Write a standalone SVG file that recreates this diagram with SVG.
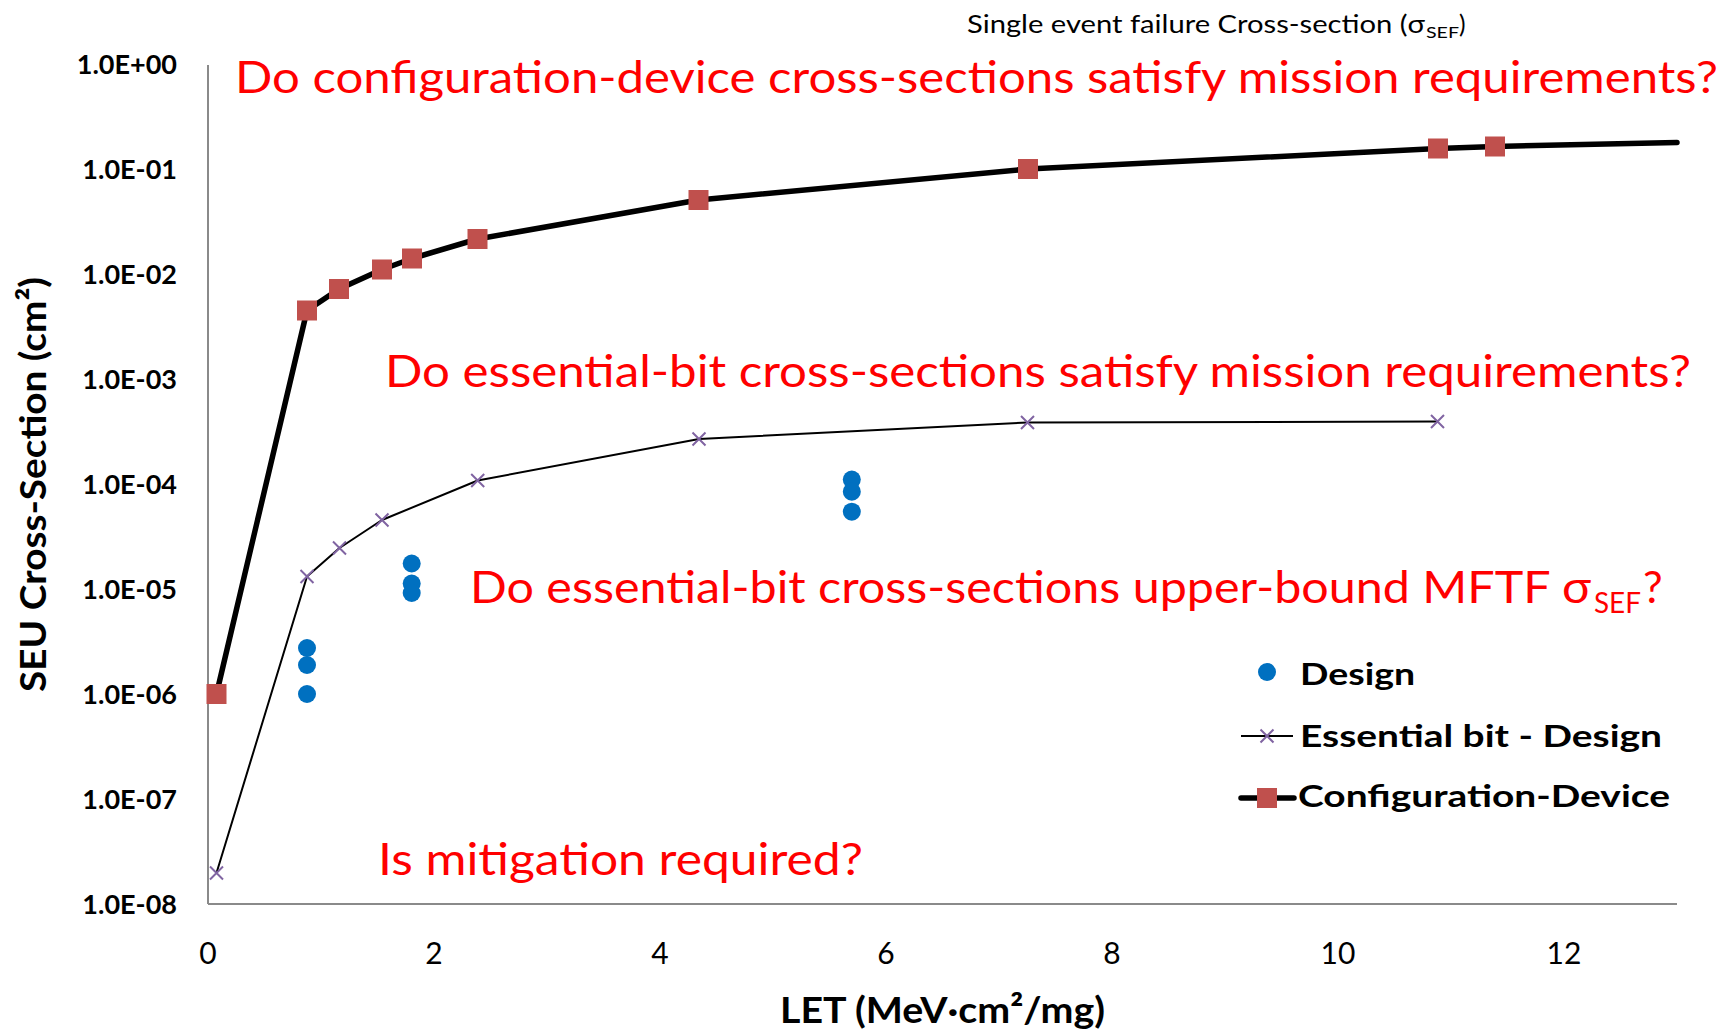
<svg xmlns="http://www.w3.org/2000/svg" xmlns:xlink="http://www.w3.org/1999/xlink" width="1725" height="1029" viewBox="0 0 1725 1029">
<style>
text{font-family:Lato,"Liberation Sans",sans-serif}
.q{fill:#FF0000;font-size:44px}
.tick{font-size:27px;font-weight:bold;fill:#000;text-anchor:end}
.xt{font-size:30px;fill:#000;text-anchor:middle}
.ax{stroke:#8A8A8A;stroke-width:2;fill:none}
.thick{stroke:#000;stroke-width:5.5;fill:none;stroke-linejoin:round;stroke-linecap:round}
.thin{stroke:#000;stroke-width:2;fill:none;stroke-linejoin:round}
.xm{stroke:#8064A2;stroke-width:2;fill:none}
.sq{fill:#C0504D}
.dot{fill:#0070C0}
.leg{font-size:31px;font-weight:bold;fill:#000}
.title{font-size:37px;font-weight:bold;fill:#000}
</style>
<defs>
<path id="xmark" class="xm" d="M-6.5,-6.5L6.5,6.5M-6.5,6.5L6.5,-6.5"/>
<rect id="sqmark" class="sq" x="-10" y="-10" width="20" height="20"/>
</defs>
<rect width="1725" height="1029" fill="#fff"/>

<g id="axes">
<line class="ax" x1="208" y1="65" x2="208" y2="904"/>
<line class="ax" x1="208" y1="904" x2="1677" y2="904"/>
</g>

<g id="y-ticks">
<text class="tick" x="177" y="74">1.0E+00</text>
<text class="tick" x="177" y="179">1.0E-01</text>
<text class="tick" x="177" y="284">1.0E-02</text>
<text class="tick" x="177" y="389">1.0E-03</text>
<text class="tick" x="177" y="494">1.0E-04</text>
<text class="tick" x="177" y="599">1.0E-05</text>
<text class="tick" x="177" y="704">1.0E-06</text>
<text class="tick" x="177" y="809">1.0E-07</text>
<text class="tick" x="177" y="914">1.0E-08</text>
</g>

<g id="x-ticks">
<text class="xt" x="208" y="964">0</text>
<text class="xt" x="434" y="964">2</text>
<text class="xt" x="660" y="964">4</text>
<text class="xt" x="886" y="964">6</text>
<text class="xt" x="1112" y="964">8</text>
<text class="xt" x="1338" y="964">10</text>
<text class="xt" x="1564" y="964">12</text>
</g>

<g id="axis-titles">
<text class="title" x="780" y="1023" textLength="325" lengthAdjust="spacingAndGlyphs">LET (MeV·cm²/mg)</text>
<text class="title" transform="translate(46,692) rotate(-90)" x="0" y="0" textLength="415" lengthAdjust="spacingAndGlyphs">SEU Cross-Section (cm²)</text>
</g>

<g id="chart-title">
<text x="967" y="33" font-size="24.5" fill="#000" textLength="458" lengthAdjust="spacingAndGlyphs">Single event failure Cross-section (σ</text>
<text x="1426" y="38" font-size="16" fill="#000" textLength="33" lengthAdjust="spacingAndGlyphs">SEF</text>
<text x="1459" y="33" font-size="24.5" fill="#000">)</text>
</g>

<g id="connectors">
<polyline id="config-device-line" class="thick" points="216.5,694 307,310.5 339,289 382,269.5 412,258.5 477.5,239 698.5,200 1028,169 1438,148.5 1495,146.5 1677,142.5"/>
<polyline id="essential-bit-line" class="thin" points="216.5,873 307,576.5 339.5,548 382,520 477.7,480.5 699,439 1027.5,422.5 1437.5,421.5"/>
</g>

<g id="design-points">
<circle class="dot" cx="307" cy="648" r="9"/>
<circle class="dot" cx="307" cy="665" r="9"/>
<circle class="dot" cx="307" cy="694" r="9"/>
<circle class="dot" cx="411.7" cy="563.5" r="9"/>
<circle class="dot" cx="411.7" cy="583.5" r="9"/>
<circle class="dot" cx="411.7" cy="593" r="9"/>
<circle class="dot" cx="851.8" cy="479.6" r="9"/>
<circle class="dot" cx="851.8" cy="491.7" r="9"/>
<circle class="dot" cx="851.8" cy="511.7" r="9"/>
</g>

<g id="essential-bit-markers">
<use xlink:href="#xmark" x="216.5" y="873"/>
<use xlink:href="#xmark" x="307" y="576.5"/>
<use xlink:href="#xmark" x="339.5" y="548"/>
<use xlink:href="#xmark" x="382" y="520"/>
<use xlink:href="#xmark" x="477.7" y="480.5"/>
<use xlink:href="#xmark" x="699" y="439"/>
<use xlink:href="#xmark" x="1027.5" y="422.5"/>
<use xlink:href="#xmark" x="1437.5" y="421.5"/>
</g>

<g id="config-device-markers">
<use xlink:href="#sqmark" x="216.5" y="694"/>
<use xlink:href="#sqmark" x="307" y="310.5"/>
<use xlink:href="#sqmark" x="339" y="289"/>
<use xlink:href="#sqmark" x="382" y="269.5"/>
<use xlink:href="#sqmark" x="412" y="258.5"/>
<use xlink:href="#sqmark" x="477.5" y="239"/>
<use xlink:href="#sqmark" x="698.5" y="200"/>
<use xlink:href="#sqmark" x="1028" y="169"/>
<use xlink:href="#sqmark" x="1438" y="148.5"/>
<use xlink:href="#sqmark" x="1495" y="146.5"/>
</g>

<g id="questions">
<text class="q" x="235" y="93" textLength="1483" lengthAdjust="spacingAndGlyphs">Do configuration-device cross-sections satisfy mission requirements?</text>
<text class="q" x="385" y="387" textLength="1306" lengthAdjust="spacingAndGlyphs">Do essential-bit cross-sections satisfy mission requirements?</text>
<text class="q" x="470" y="603" textLength="1121" lengthAdjust="spacingAndGlyphs">Do essential-bit cross-sections upper-bound MFTF σ</text>
<text x="1594" y="613" font-size="29" fill="#FF0000" textLength="47" lengthAdjust="spacingAndGlyphs">SEF</text>
<text class="q" x="1643" y="603">?</text>
<text class="q" x="378" y="875" textLength="485" lengthAdjust="spacingAndGlyphs">Is mitigation required?</text>
</g>

<g id="legend">
<circle class="dot" cx="1267" cy="672" r="9"/>
<text class="leg" x="1300" y="685" textLength="115" lengthAdjust="spacingAndGlyphs">Design</text>
<line class="thin" x1="1241" y1="736" x2="1293" y2="736"/>
<use xlink:href="#xmark" x="1267" y="736"/>
<text class="leg" x="1300" y="747" textLength="362" lengthAdjust="spacingAndGlyphs">Essential bit - Design</text>
<line class="thick" x1="1241" y1="798" x2="1294" y2="798"/>
<use xlink:href="#sqmark" x="1267" y="798"/>
<text class="leg" x="1298" y="807" textLength="372" lengthAdjust="spacingAndGlyphs">Configuration-Device</text>
</g>
</svg>
